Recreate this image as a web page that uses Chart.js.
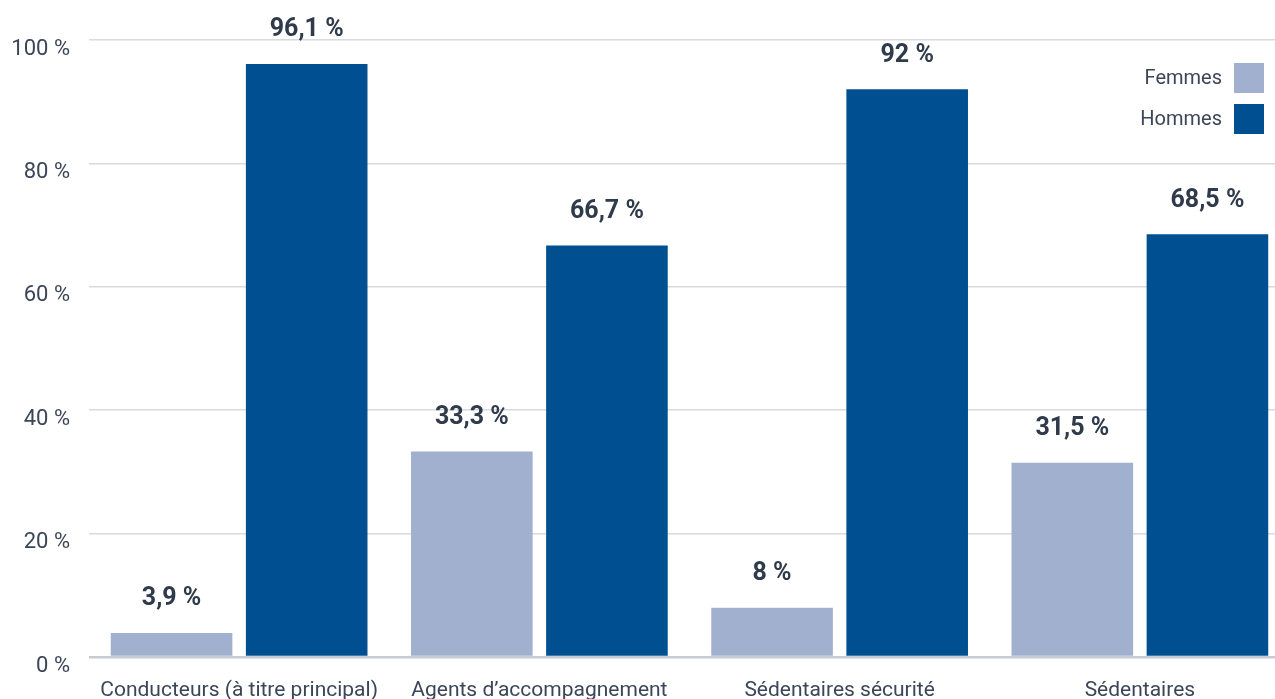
<!DOCTYPE html>
<html lang="fr">
<head>
<meta charset="utf-8">
<script src="https://cdn.jsdelivr.net/npm/chart.js@4/dist/chart.umd.min.js"></script>
<style>
  html, body { margin: 0; padding: 0; background: #ffffff; overflow: hidden; }
  #wrap { position: relative; width: 1290px; height: 699px; }
</style>
</head>
<body>
<div id="wrap"><canvas id="chart"></canvas></div>
<script>
// Répartition femmes / hommes par métier (en %)
const categories = [
  'Conducteurs (à titre principal)',
  'Agents d\u2019accompagnement',
  'Sédentaires sécurité',
  'Sédentaires'
];
const femmes = [3.9, 33.3, 8, 31.5];
const hommes = [96.1, 66.7, 92, 68.5];
const yTicks = [0, 20, 40, 60, 80, 100];

const FONT = 'Roboto, "DejaVu Sans", sans-serif';
const TEXT = '#3b4658';
const fmt = v => String(v).replace('.', ',') + ' %';

// Valeurs en gras au-dessus de chaque barre
const valueLabels = {
  id: 'valueLabels',
  afterDatasetsDraw(chart) {
    const ctx = chart.ctx;
    ctx.save();
    ctx.font = 'bold 25px ' + FONT;
    ctx.fillStyle = '#2f3a4b';
    ctx.textAlign = 'center';
    ctx.textBaseline = 'middle';
    chart.data.datasets.forEach((ds, i) => {
      chart.getDatasetMeta(i).data.forEach((bar, j) => {
        ctx.fillText(fmt(ds.data[j]), bar.x, bar.y - 34);
      });
    });
    ctx.restore();
  }
};

// Légende : libellé à gauche, carré de couleur à droite
const sideLegend = {
  id: 'sideLegend',
  afterDraw(chart) {
    const ctx = chart.ctx;
    ctx.save();
    ctx.font = '20px ' + FONT;
    ctx.textAlign = 'right';
    ctx.textBaseline = 'middle';
    chart.data.datasets.forEach((ds, i) => {
      const top = 63 + i * 41;
      ctx.fillStyle = ds.backgroundColor;
      ctx.fillRect(1234, top, 30, 30);
      ctx.fillStyle = TEXT;
      ctx.fillText(ds.label, 1222, top + 16);
    });
    ctx.restore();
  }
};

new Chart(document.getElementById('chart'), {
  type: 'bar',
  data: {
    labels: categories,
    datasets: [
      { label: 'Femmes', data: femmes, backgroundColor: '#a2b0cf' },
      { label: 'Hommes', data: hommes, backgroundColor: '#005091' }
    ]
  },
  options: {
    responsive: true,
    maintainAspectRatio: false,
    animation: false,
    layout: { padding: { top: 40, right: 0, left: 0, bottom: 0 } },
    datasets: { bar: { categoryPercentage: 0.9, barPercentage: 0.9 } },
    plugins: {
      legend: { display: false },
      tooltip: { enabled: false }
    },
    scales: {
      x: {
        grid: { display: false },
        border: { display: false },
        ticks: {
          color: TEXT,
          font: { family: FONT, size: 21 },
          padding: 13,
          maxRotation: 0,
          autoSkip: false
        },
        afterFit(scale) { scale.height = 42; }
      },
      y: {
        min: 0,
        max: 100,
        afterBuildTicks(scale) { scale.ticks = yTicks.map(v => ({ value: v })); },
        grid: {
          color: c => c.tick && c.tick.value === 0 ? '#c9cbd3' : '#d8dae0',
          lineWidth: c => c.tick && c.tick.value === 0 ? 2.5 : 1.5,
          drawTicks: false
        },
        border: { display: false },
        ticks: {
          color: TEXT,
          font: { family: FONT, size: 22 },
          padding: 19,
          labelOffset: 9,
          callback: v => v + ' %'
        },
        afterFit(scale) { scale.width = 89; }
      }
    }
  },
  plugins: [valueLabels, sideLegend]
});
</script>
</body>
</html>
